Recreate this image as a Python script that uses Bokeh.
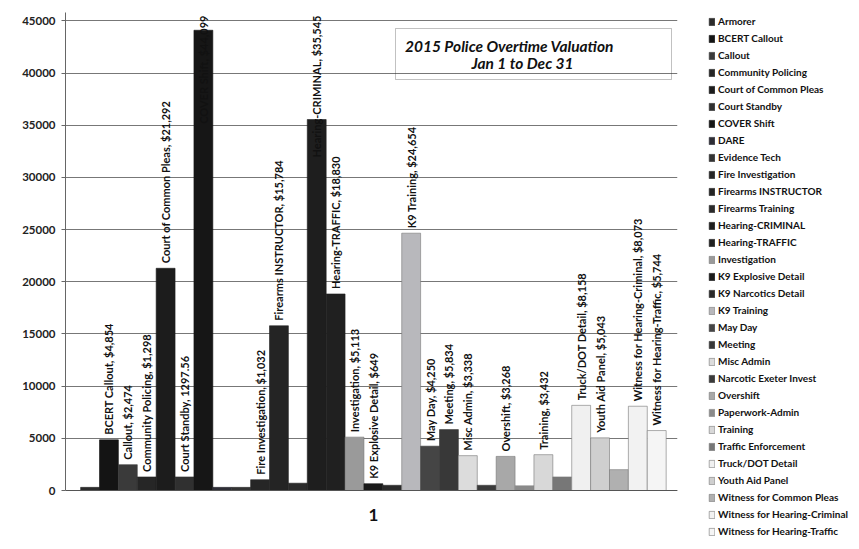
import math
from bokeh.plotting import figure
from bokeh.layouts import row
from bokeh.models import (Range1d, FixedTicker, Legend, LegendItem, BoxAnnotation,
                          Label, ColumnDataSource, Span)
from bokeh.core.properties import value
from bokeh.embed import file_html
from bokeh.resources import INLINE

# ---------------- data ----------------
categories = ["Armorer", "BCERT Callout", "Callout", "Community Policing",
              "Court of Common Pleas", "Court Standby", "COVER Shift", "DARE",
              "Evidence Tech", "Fire Investigation", "Firearms INSTRUCTOR",
              "Firearms Training", "Hearing-CRIMINAL", "Hearing-TRAFFIC",
              "Investigation", "K9 Explosive Detail", "K9 Narcotics Detail",
              "K9 Training", "May Day", "Meeting", "Misc Admin",
              "Narcotic Exeter Invest", "Overshift", "Paperwork-Admin", "Training",
              "Traffic Enforcement", "Truck/DOT Detail", "Youth Aid Panel",
              "Witness for Common Pleas", "Witness for Hearing-Criminal",
              "Witness for Hearing-Traffic"]
values = [300, 4854, 2474, 1298, 21292, 1297.56, 44099, 300, 300, 1032, 15784,
          700, 35545, 18830, 5113, 649, 500, 24654, 4250, 5834, 3338,
          500, 3268, 450, 3432, 1300, 8158, 5043, 2000, 8073, 5744]
data_labels = ["", "BCERT Callout, $4,854", "Callout, $2,474",
               "Community Policing, $1,298", "Court of Common Pleas, $21,292",
               "Court Standby, 1297.56", "COVER Shift, $44,099", "", "",
               "Fire Investigation, $1,032", "Firearms INSTRUCTOR, $15,784", "",
               "Hearing-CRIMINAL, $35,545", "Hearing-TRAFFIC, $18,830",
               "Investigation, $5,113", "K9 Explosive Detail, $649", "",
               "K9 Training, $24,654", "May Day, $4,250", "Meeting, $5,834",
               "Misc Admin, $3,338", "", "Overshift, $3,268", "",
               "Training, $3,432", "", "Truck/DOT Detail, $8,158",
               "Youth Aid Panel, $5,043", "",
               "Witness for Hearing-Criminal, $8,073",
               "Witness for Hearing-Traffic, $5,744"]
y_ticks = [0, 5000, 10000, 15000, 20000, 25000, 30000, 35000, 40000, 45000]
category_axis_label = "1"
title_lines = ["2015 Police Overtime Valuation", "Jan 1 to Dec 31"]

# ---------------- style ----------------
colors = ["#2b2b2b", "#141414", "#3a3a3a", "#262626", "#1c1c1c", "#303030",
          "#161616", "#2e2e36", "#333333", "#262626", "#242424", "#2a2a2a",
          "#1e1e1e", "#202020", "#9a9a9a", "#1a1a1a", "#2a2a2a", "#b8b8bc",
          "#454545", "#383838", "#dcdcdc", "#3a3a3a", "#a8a8a8", "#8a8a8a",
          "#d8d8d8", "#777777", "#f0f0f0", "#cfcfcf", "#b0b0b0", "#f2f2f2",
          "#f5f5f5"]


def is_light(c):
    return int(c[1:3], 16) > 0x90


line_colors = ["#777777" if is_light(c) else c for c in colors]

FONT = "Lato"
W, H = 859, 549
MAIN_W = 690
X0, X1 = -0.8, 31.6
Y_TOP_VAL = 45800          # value shown at the top edge of the plot area
F_LEFT, F_RIGHT, F_TOP, F_BOTTOM = 65, 677, 12, 490   # plot area in pixels


def dx(px):
    return X0 + (px - F_LEFT) / (F_RIGHT - F_LEFT) * (X1 - X0)


def dy(py):
    return (F_BOTTOM - py) / (F_BOTTOM - F_TOP) * Y_TOP_VAL


n = len(categories)
xs = [i + 0.5 for i in range(n)]

# frame spans the full height so that the neighbouring legend frame does too
p = figure(width=MAIN_W, height=H, output_backend="svg", toolbar_location=None,
           x_range=Range1d(X0, X1), y_range=Range1d(dy(H), dy(0)),
           x_axis_location=None,
           min_border_left=F_LEFT, min_border_right=MAIN_W - F_RIGHT,
           min_border_top=0, min_border_bottom=0)
p.outline_line_color = None
p.background_fill_color = "white"
p.border_fill_color = "white"

src = ColumnDataSource(dict(x=xs, top=values, fill=colors, line=line_colors,
                            cat=categories))
r = p.vbar(x="x", top="top", bottom=0, width=1.0, fill_color="fill",
           line_color="line", line_width=0.6, source=src)

# data labels
lx, ly, lt, la, lo = [], [], [], [], []
for i in range(n):
    if not data_labels[i]:
        continue
    lx.append(xs[i])
    lt.append(data_labels[i])
    if values[i] > 30000:
        ly.append(Y_TOP_VAL)
        la.append("right")
        lo.append(3)
    else:
        ly.append(values[i])
        la.append("left")
        lo.append(-5)
lsrc = ColumnDataSource(dict(x=lx, y=ly, text=lt, align=la, off=lo))
p.text(x="x", y="y", text="text", source=lsrc, angle=math.pi / 2,
       text_align="align", y_offset="off", text_baseline="middle",
       text_font=value(FONT), text_font_style="bold", text_font_size="11px",
       text_color="#111111")

# y axis
p.yaxis.ticker = FixedTicker(ticks=y_ticks)
p.yaxis.bounds = (0, Y_TOP_VAL)
p.ygrid.ticker = FixedTicker(ticks=y_ticks)
p.yaxis.major_label_text_font = FONT
p.yaxis.major_label_text_font_style = "bold"
p.yaxis.major_label_text_font_size = "11.5px"
p.yaxis.major_label_text_color = "#222222"
p.yaxis.axis_line_color = "#666666"
p.yaxis.major_tick_line_color = "#666666"
p.yaxis.major_tick_out = 4
p.yaxis.major_tick_in = 0
p.yaxis.minor_tick_line_color = None
p.yaxis.major_label_standoff = 6

p.xgrid.grid_line_color = None
p.ygrid.grid_line_color = "#777777"
p.ygrid.grid_line_width = 1

# category axis: baseline and the single category label
p.add_layout(Span(location=0, dimension="width", line_color="#555555",
                  line_width=1.2))
p.add_layout(Label(x=n / 2.0, y=dy(514), text=category_axis_label,
                   text_font=FONT, text_font_style="bold",
                   text_font_size="17px", text_align="center",
                   text_baseline="middle", text_color="#111111"))

# title box
box = BoxAnnotation(left=dx(395), right=dx(671), top=dy(28), bottom=dy(79),
                    fill_alpha=0, line_color="#333333", line_width=1)
p.add_layout(box)
p.add_layout(Label(x=dx(509), y=dy(45), text=title_lines[0], text_font=FONT,
                   text_font_style="bold italic", text_font_size="15.5px",
                   text_align="center", text_baseline="middle",
                   text_color="#111111"))
p.add_layout(Label(x=dx(522), y=dy(62), text=title_lines[1], text_font=FONT,
                   text_font_style="bold italic", text_font_size="15.5px",
                   text_align="center", text_baseline="middle",
                   text_color="#111111"))

# legend panel (separate figure to the right, same data source)
lg = figure(width=W - MAIN_W, height=H, output_backend="svg",
            toolbar_location=None, x_range=Range1d(-100, -99),
            y_range=Range1d(0, 1), x_axis_type=None, y_axis_type=None,
            min_border=0, min_border_left=0, min_border_right=0,
            min_border_top=0, min_border_bottom=0)
lg.outline_line_color = None
lg.grid.grid_line_color = None
lg.background_fill_color = "white"
lg.border_fill_color = "white"
rl = lg.vbar(x="x", top="top", bottom=0, width=1.0, fill_color="fill",
             line_color="line", line_width=0.6, source=src)
items = [LegendItem(label=categories[i], renderers=[rl], index=i) for i in range(n)]
legend = Legend(items=items, location=(18, 12), orientation="vertical",
                padding=3, margin=0, spacing=5, label_height=12,
                glyph_height=9, glyph_width=7, label_standoff=3,
                label_text_font=FONT, label_text_font_style="bold",
                label_text_font_size="10px", label_text_color="#111111",
                border_line_color=None, background_fill_alpha=0)
lg.add_layout(legend)

layout = row(p, lg, spacing=0)
open("out.html", "w").write(file_html(layout, INLINE))
